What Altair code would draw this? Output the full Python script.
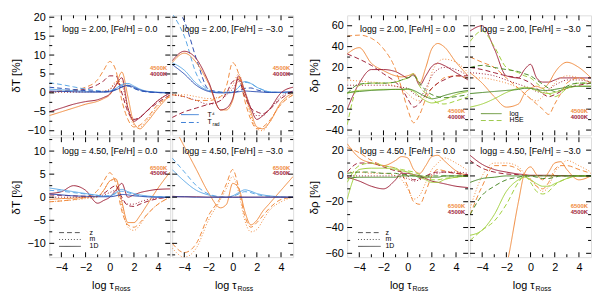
import altair as alt
import pandas as pd

# ---------------- data ----------------
X_GRID = [-5, -4, -3, -2, -1, -0.5, 0, 0.5, 1, 1.5, 2, 2.5, 3, 4, 5]

dT_g200_m00 = {
    "or_z":   [0.3, 0.5, 0.8, 1.5, 3.5, 6, 8.3, 6, -2, -7, -9, -8.5, -7, -3, -1],
    "dr_z":   [0.3, 0.4, 0.6, 1, 2.2, 3.2, 4.5, 4.5, 0, -5, -7, -6.5, -5, -2.5, -0.5],
    "or_1d":  [-6, -5, -4, -3, -2.2, -1.5, -0.5, 2, 5.5, -1, -8, -9.5, -8, -4, -0.5],
    "dr_1d":  [-5, -4, -3, -2.3, -1.8, -1.2, -0.3, 2, 4, -4, -7.5, -6.5, -5, -2, 0],
    "or_m":   [0.3, 0.3, 0.3, 0.3, 0.4, 0.5, 1, 3, 3, -4, -8.5, -9, -7.5, -3.5, -0.5],
    "dr_m":   [0.2, 0.2, 0.2, 0.3, 0.3, 0.4, 0.8, 2.5, 2, -4, -7, -6.5, -5, -2, 0],
    "lb_t4":  [1, 0.8, 0.6, 0.4, 0.3, 0.3, 0.5, 1.2, 2.2, 2.5, 1.8, 1, 0.5, 0.2, 0.1],
    "lb_trad": [2.7, 2.2, 1.6, 1, 0.6, 0.4, 0.5, 1.2, 2, 2, 1.2, 0.6, 0.3, 0.1, 0],
    "db_t4":  [0.5, 0.4, 0.3, 0.2, 0.2, 0.2, 0.3, 0.8, 1.5, 2, 1.5, 0.8, 0.4, 0.1, 0],
    "db_trad": [1.5, 1.2, 0.9, 0.6, 0.4, 0.3, 0.4, 0.9, 1.6, 1.8, 1.2, 0.6, 0.3, 0.1, 0],
}
dT_g200_m30 = {
    "lb_trad": [21, 15, 5, 0.8, 0.2, 0.2, 0.3, 1.5, 2.8, 2.5, 1.5, 0.8, 0.3, 0.1, 0.1],
    "db_trad": [23, 19, 9, 1, 0.2, 0.1, 0.1, 0.5, 1.2, 1.3, 0.8, 0.4, 0.2, 0.1, 0],
    "lb_t4":  [8, 6, 2.5, 0.6, 0.1, 0.1, 0.2, 1.5, 3, 2.5, 1.5, 0.8, 0.3, 0.1, 0],
    "db_t4":  [7.5, 5, 2, 0.4, 0, 0, 0.1, 0.3, 0.5, 0.4, 0.3, 0.2, 0.1, 0.2, 0.4],
    "or_1d":  [8, 10.5, 8, 2.5, -4.5, -4.5, -2, 4, 0, -5, -9, -9.5, -8, -2.5, 0],
    "dr_1d":  [8.5, 11, 9, 3, -4.5, -4, -1.5, 4.5, 0.5, -4, -7, -6, -4.5, 0, 1.5],
    "or_z":   [-0.5, -1, -2, -2, -1, 2, 8, 5, -2, -7, -9.5, -9, -7.5, -3, -0.5],
    "dr_z":   [-6.5, -5, -4, -3, -2, 0, 3, 3.5, -1, -4, -5, -5.5, -4.5, -1.5, 0.5],
    "or_m":   [-0.5, -0.5, -1, -1.5, -1, 0, 2, 5, 0, -6, -9.5, -10, -8, -3, -0.5],
    "dr_m":   [-0.5, -1, -2, -3, -2, -0.5, 1, 3, 0, -4, -6, -6, -4.5, -1, 0.5],
}
dT_g450_m00 = {
    "or_z":   [-1, -0.8, -0.5, 0, 1.5, 3.5, 5.3, 3, -3, -6, -6.5, -5.5, -4, -1.5, 0],
    "or_1d":  [-0.5, -0.3, -0.2, 0, 0.2, 1.5, 3.5, 4, -1, -5.5, -5.5, -4, -2, 2, 5.5],
    "or_m":   [-1, -0.8, -0.6, -0.3, 0, 1.5, 3.5, 3.8, -2, -6.5, -7.2, -6, -4, -1.5, 0],
    "dr_1d":  [0.8, 1.2, 2.5, 1.5, -1.3, -0.7, 0, 1.5, 3, 0, 0.5, 1, 1.3, 1.7, 1.8],
    "dr_z":   [0.5, 0.4, 0.3, 0.2, 0.3, 0.8, 1.8, 2.5, 0, -1.8, -2, -1.5, -1, -0.3, 0],
    "dr_m":   [0, 0, 0, 0, 0.2, 0.5, 1, 1.5, -0.5, -1.5, -1.5, -1, -0.6, -0.2, 0],
    "lb_t4":  [2, 1.6, 1.2, 0.8, 0.4, 0.2, 0.3, 1, 1.7, 1.2, 0.8, 0.5, 0.3, 0.1, 0],
    "lb_trad": [1.5, 1.3, 1, 0.7, 0.4, 0.3, 0.3, 0.8, 1.3, 1, 0.6, 0.3, 0.2, 0.1, 0],
    "db_t4":  [0.7, 0.5, 0.3, 0.2, 0.1, 0.1, 0.1, 0.3, 0.6, 0.5, 0.3, 0.2, 0.1, 0, 0],
}
dT_g450_m30 = {
    "or_1d":  [16, 11, 6, 1, -2.3, -1.5, 3, 2, -3, -6, -5, -3, -1.5, 1.5, 4.5],
    "or_z":   [-10, -12, -10, -4, 0, 3, 6, 2, -4, -6.5, -5.5, -4, -2.5, -0.5, 0],
    "or_m":   [-11, -13, -11, -5, -0.5, 2, 4.5, 1, -5, -7.5, -7, -5, -3, -1, 0],
    "lb_t4":  [6, 3.5, 1.5, 0.5, 0, 0, 0.3, 1, 1.6, 1.3, 0.8, 0.5, 0.3, 0.1, 0],
    "lb_trad": [8.5, 5.5, 2.5, 0.7, 0.1, 0, 0.2, 0.7, 1.2, 1, 0.6, 0.3, 0.2, 0.05, 0],
    "dr_1d":  [0.2, 0.1, 0.1, 0, 0, 0, 0, 0, 0, 0, 0, 0, 0, 0, 0],
    "db_t4":  [0.1, 0.1, 0, 0, 0, 0, 0, 0, 0, 0, 0, 0, 0, 0, 0],
}
dR_g200_m00 = {
    "or_1d":  [33, 39, 24, 17, 12, 11, 12, 14, 5, 20, 38, 43, 40, 25, 12],
    "dr_1d":  [-20, 5, 18, 18, 16, 13, 10, 13, 3, 12, 21, 24, 22, 15, 8],
    "or_z":   [50, 51, 48, 38, 18, 0, -20, -33, -25, -10, 0, 5, 10, 12, 10],
    "dr_z":   [33, 28, 22, 14, 6, 0, -10, -18, -14, -6, 0, 5, 8, 12, 12],
    "or_m":   [8, 7, 6, 5, 2, 0, -5, -10, -12, -5, 15, 25, 28, 25, 15],
    "dr_m":   [3, 3, 3, 3, 2, 1, 0, -5, -8, 0, 12, 18, 20, 18, 12],
    "lg_log": [-5, -2, -1.5, -1, -1, -1, -1, -3, -8, -12, -14, -13, -11, -6, -3],
    "dg_log": [-4, -3, -2, -1.5, -1, -1, -0.5, -2, -5, -8, -10, -9, -7, -4, -2],
    "lg_hse": [-35, 3, 5, 5, 6, 8, 10, 14, 2, -5, -10, -14, -15, -12, -8],
    "dg_hse": [-5, 4, 5, 5, 6, 8, 10, 12, 5, -2, -6, -8, -9, -8, -6],
}
dR_g200_m30 = {
    "dr_1d":  [55, 60, 38, 12, 10, 18, 23, 10, 6, 6, 8, 10, 10, 10, 10],
    "or_1d":  [15, 5, -8, -18, -15, -5, 0, 2, 0, 5, 15, 22, 25, 20, 10],
    "or_z":   [30, 25, 20, 10, 0, -5, -10, -15, -20, -25, -15, -5, 5, 10, 5],
    "dr_z":   [20, 18, 15, 12, 10, 8, 5, 0, -5, -8, -6, -3, 0, 3, 5],
    "or_m":   [10, 10, 8, 5, 0, -5, -10, -12, -8, -2, 5, 10, 12, 10, 5],
    "dr_m":   [15, 14, 12, 8, 4, 2, 0, -3, -4, -1, 3, 6, 8, 8, 6],
    "lg_hse": [45, 55, 40, 20, 15, 12, 10, 5, 0, -5, -8, -5, 0, 5, 5],
    "dg_hse": [20, 22, 20, 18, 16, 14, 12, 8, 4, 0, -3, -2, 2, 5, 5],
    "lg_log": [-18, -15, -10, -4, 0, 1, 0, -2, -4, -5, -4, -2, 0, 2, 2],
    "dg_log": [-5, -4, -3, -2, -1, 0, 0, -1, -2, -2, -1, 0, 1, 2, 2],
}
dR_g450_m00 = {
    "or_1d":  [25, 14, 10, 8, 12, 15, 14, 5, 2, 8, 15, 16, 12, 4, 0],
    "or_z":   [22, 18, 12, 8, 6, 2, -8, -20, -22, -12, 0, 5, 4, 2, 0],
    "or_m":   [3, 3, 2, 2, 0, -3, -10, -18, -15, -5, 5, 10, 14, 10, 4],
    "dr_1d":  [-1, -4, -8, -10, -3, 2, 2, 1, 0, -2, -4, -5, -6, -8, -9],
    "dr_z":   [3, 10, 10, 7, 4, 3, 0, -3, -2, 0, 2, 3, 3, 2, 1],
    "dr_m":   [0, 0, 0, 0, 0, -1, -2, -4, -3, -1, 1, 2, 3, 3, 2],
    "lg_log": [-18, 5, 6, 6, 5, 4, 3, 1, -1, -3, -5, -5, -3, -1, 0],
    "dg_log": [-2, -1, -1, -1, -1, 0, 0, 0, -1, -1, -1, -1, 0, 0, 0],
    "lg_hse": [-5, 8, 10, 8, 6, 5, 4, 3, 1, -1, -3, -3, -2, -1, 0],
    "dg_hse": [2, 3, 3, 2, 2, 1, 1, 0, 0, 0, 0, 0, 0, 0, 0],
}
dR_g450_m30 = {
    "dr_1d":  [16, 9, 5, 3, 1.5, 1, 0.5, 0.5, 0.5, 0.5, 0.3, 0.3, 0.2, 0.1, 0],
    "dr_z":   [12, 6, 3, 1.5, 1, 0.5, 0.3, 0.3, 0.3, 0.2, 0.2, 0.1, 0.1, 0, 0],
    "or_1d":  [-150, -120, -95, -70, -20, 2, 7, 1, -3, 3, 10, 11, 5, -3, 0],
    "or_z":   [-30, -8, 8, 8, 5, 1, -3, -8, -10, -5, 5, 8, 8, 5, 2],
    "or_m":   [-25, 0, 10, 10, 7, 2, -2, -8, -12, -8, 3, 8, 12, 8, 3],
    "lg_log": [-46, -42, -30, -12, -3, -1, -3, -6, -8, -8, -6, -4, -2, 0, 0],
    "lg_hse": [-50, -42, -35, -22, -5, 0, -5, -12, -14, -12, -7, -4, -2, 0, 0],
    "dg_hse": [-30, -15, -8, -3, -1, 0, 0, -1, -2, -2, -1, 0, 0, 0, 0],
    "dg_log": [-5, -2, -1, 0, 0, 0, 0, 0, 0, 0, 0, 0, 0, 0, 0],
}

X_LABELS = [-4, -2, 0, 2, 4]
X_TICKS_MAJOR = [-4, -2, 0, 2, 4]
X_TICKS_MINOR = [-3, -1, 1, 3]
DT_TOP_LABELS = [-10, -5, 0, 5, 10, 15, 20]
DT_TOP_MINOR = [-7.5, -2.5, 2.5, 7.5, 12.5, 17.5]
DT_BOT_LABELS = [-10, -5, 0, 5, 10]
DT_BOT_MINOR = [-12.5, -7.5, -2.5, 2.5, 7.5, 12.5]
DR_TOP_LABELS = [-40, -20, 0, 20, 40, 60]
DR_TOP_MINOR = [-30, -10, 10, 30, 50]
DR_BOT_LABELS = [-60, -40, -20, 0, 20]
DR_BOT_MINOR = [-50, -30, -10, 10]

# ---------------- styling ----------------
FONT = "Liberation Sans"
COL_KEYS = ["or", "dr", "lb", "db", "lg", "dg"]
COL_VALS = ["#f08a3c", "#9e2238", "#5aa6e6", "#2b4cb0", "#9fcf3c", "#4d8a2a"]
STY_OF = {"1d": "solid", "t4": "solid", "log": "solid",
          "z": "dashed", "trad": "dashed", "hse": "dashed", "m": "dotted"}
STY_KEYS = ["solid", "dashed", "dotted"]
STY_VALS = [[1, 0], [5, 3], [1, 2]]

W, H = 123, 122


def curves_df(curves):
    rows = []
    for key, vals in curves.items():
        c, s = key.split("_")
        for xv, yv in zip(X_GRID, vals):
            rows.append({"x": xv, "y": yv, "key": key, "col": c, "sty": STY_OF[s]})
    return pd.DataFrame(rows)


def txt(t, x, y, size=8, color="black", align="left", weight="normal", dy=0):
    return alt.Chart(pd.DataFrame({"t": [t]})).mark_text(
        fontSize=size, font=FONT, color=color, align=align, baseline="middle",
        fontWeight=weight, dy=dy
    ).encode(text="t:N", x=alt.value(x), y=alt.value(y))


def seg(x0, x1, y, color, dash):
    return alt.Chart(pd.DataFrame({"a": [0]})).mark_rule(
        color=color, strokeDash=dash, strokeWidth=1
    ).encode(x=alt.value(x0), x2=alt.value(x1), y=alt.value(y))


def panel(curves, ydom, ylabels, yminor, ytitle, show_y, show_x, title, temps, tfrac, legend):
    df = curves_df(curves)
    xs = alt.Scale(domain=[-5, 5], nice=False, zero=False)
    ys = alt.Scale(domain=ydom, nice=False, zero=False)
    if show_x:
        xaxis = alt.Axis(values=X_LABELS, ticks=False, domain=False, grid=False,
                         labelFontSize=11, labelFont=FONT, labelColor="black",
                         labelPadding=5, title=None)
    else:
        xaxis = None
    if show_y:
        yaxis = alt.Axis(values=ylabels, ticks=False, domain=False, grid=False,
                         labelFontSize=11, labelFont=FONT, labelColor="black",
                         labelPadding=4, title=ytitle, titleFontSize=12,
                         titleFont=FONT, titleFontWeight="normal", titleColor="black",
                         titlePadding=5)
    else:
        yaxis = None
    X = alt.X("x:Q", scale=xs, axis=xaxis)
    Y = alt.Y("y:Q", scale=ys, axis=yaxis)

    lines = alt.Chart(df).mark_line(clip=True, strokeWidth=1, interpolate="monotone").encode(
        x=X, y=Y,
        color=alt.Color("col:N", scale=alt.Scale(domain=COL_KEYS, range=COL_VALS), legend=None),
        strokeDash=alt.StrokeDash("sty:N", scale=alt.Scale(domain=STY_KEYS, range=STY_VALS), legend=None),
        detail="key:N",
    )
    layers = [lines]
    ymaj = [v for v in ylabels if ydom[0] < v < ydom[1]]
    ymin = [v for v in yminor if ydom[0] < v < ydom[1]]
    for vals, ln in ((X_TICKS_MAJOR, 5), (X_TICKS_MINOR, 3)):
        d = pd.DataFrame({"x": vals})
        layers.append(alt.Chart(d).mark_rule(color="black").encode(x=X, y=alt.value(H), y2=alt.value(H - ln)))
        layers.append(alt.Chart(d).mark_rule(color="black").encode(x=X, y=alt.value(0), y2=alt.value(ln)))
    for vals, ln in ((ymaj, 5), (ymin, 3)):
        d = pd.DataFrame({"y": vals})
        layers.append(alt.Chart(d).mark_rule(color="black").encode(y=Y, x=alt.value(0), x2=alt.value(ln)))
        layers.append(alt.Chart(d).mark_rule(color="black").encode(y=Y, x=alt.value(W), x2=alt.value(W - ln)))

    layers.append(txt(title, W / 2, 14, size=9, align="center"))
    layers.append(txt(temps[0], W - 3, H * tfrac[0], size=6, color=COL_VALS[0], align="right", weight="bold"))
    layers.append(txt(temps[1], W - 3, H * tfrac[1], size=6, color=COL_VALS[1], align="right", weight="bold"))

    if legend is not None:
        x0, x1, xl, items = legend
        for lab, sub, col, dash, yoff in items:
            yy = H - yoff
            layers.append(seg(x0, x1, yy, col, dash))
            layers.append(txt(lab, xl, yy, size=7))
            if sub:
                layers.append(txt(sub, xl + 5, yy, size=5, dy=2))

    if show_x:
        layers.append(txt("log τ", W / 2 + 4, H + 29, size=11, align="right"))
        layers.append(txt("Ross", W / 2 + 5, H + 32, size=7))

    return alt.layer(*layers).properties(width=W, height=H)


# legend entries: (label, subscript, colour, dash, pixels above the panel bottom)
LEG_T = (9, 27, 36, [("T⁴", None, "#3d7fd6", [1, 0], 21),
                     ("T", "rad", "#3d7fd6", [5, 3], 13)])
LEG_ZM = (10, 32, 41, [("z", None, "#555555", [5, 3], 25),
                       ("m", None, "#555555", [1, 2], 18),
                       ("1D", None, "#555555", [1, 0], 11)])
LEG_ZM2 = (11, 34, 39, [("z", None, "#555555", [5, 3], 25),
                        ("m", None, "#555555", [1, 2], 18),
                        ("1D", None, "#555555", [1, 0], 11)])
LEG_LOG = (11, 32, 40, [("log", None, "#5d8f2a", [1, 0], 22),
                        ("HSE", None, "#9cc94a", [5, 3], 15)])

DT_TOP = [-11.2, 20.5]
DT_BOT = [-13, 13]
DR_TOP = [-45, 70]
DR_BOT = [-63, 30]

p1 = panel(dT_g200_m00, DT_TOP, DT_TOP_LABELS, DT_TOP_MINOR, "δT [%]", True, False,
           "logg = 2.00, [Fe/H] = 0.0", ("4500K", "4000K"), (0.44, 0.49), None)
p2 = panel(dT_g200_m30, DT_TOP, DT_TOP_LABELS, DT_TOP_MINOR, "δT [%]", False, False,
           "logg = 2.00, [Fe/H] = −3.0", ("4500K", "4000K"), (0.44, 0.49), LEG_T)
p3 = panel(dT_g450_m00, DT_BOT, DT_BOT_LABELS, DT_BOT_MINOR, "δT [%]", True, True,
           "logg = 4.50, [Fe/H] = 0.0", ("6500K", "4500K"), (0.26, 0.30), LEG_ZM)
p4 = panel(dT_g450_m30, DT_BOT, DT_BOT_LABELS, DT_BOT_MINOR, "δT [%]", False, True,
           "logg = 4.50, [Fe/H] = −3.0", ("6500K", "4500K"), (0.26, 0.30), None)

q1 = panel(dR_g200_m00, DR_TOP, DR_TOP_LABELS, DR_TOP_MINOR, "δρ [%]", True, False,
           "logg = 2.00, [Fe/H] = 0.0", ("4500K", "4000K"), (0.80, 0.845), None)
q2 = panel(dR_g200_m30, DR_TOP, DR_TOP_LABELS, DR_TOP_MINOR, "δρ [%]", False, False,
           "logg = 2.00, [Fe/H] = −3.0", ("4500K", "4000K"), (0.80, 0.845), LEG_LOG)
q3 = panel(dR_g450_m00, DR_BOT, DR_BOT_LABELS, DR_BOT_MINOR, "δρ [%]", True, True,
           "logg = 4.50, [Fe/H] = 0.0", ("6500K", "4500K"), (0.575, 0.62), LEG_ZM2)
q4 = panel(dR_g450_m30, DR_BOT, DR_BOT_LABELS, DR_BOT_MINOR, "δρ [%]", False, True,
           "logg = 4.50, [Fe/H] = −3.0", ("6500K", "4500K"), (0.575, 0.62), None)

left = alt.vconcat(alt.hconcat(p1, p2, spacing=0), alt.hconcat(p3, p4, spacing=0), spacing=0)
right = alt.vconcat(alt.hconcat(q1, q2, spacing=0), alt.hconcat(q3, q4, spacing=0), spacing=0)

chart = alt.hconcat(left, right, spacing=12).properties(
    padding={"left": 0, "top": 0, "right": 0, "bottom": 0}
).configure_view(stroke="black", strokeWidth=1).configure(background="white")

chart.save("out.html", embed_options={"renderer": "svg", "actions": False})
